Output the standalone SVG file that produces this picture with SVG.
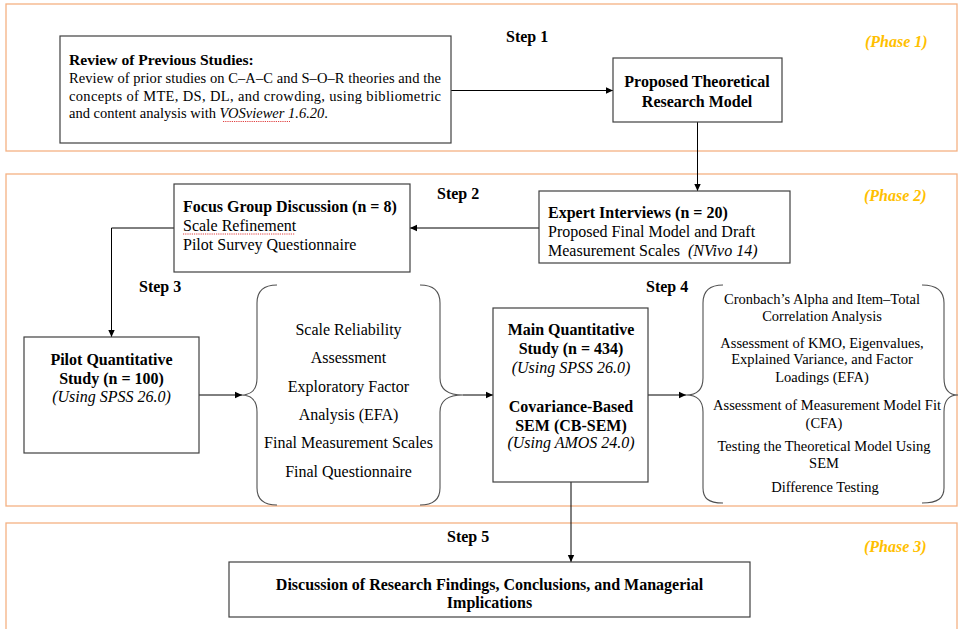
<svg xmlns="http://www.w3.org/2000/svg" width="960" height="629" viewBox="0 0 960 629">
  <defs>
    <marker id="arrow" markerWidth="8" markerHeight="8" refX="7" refY="4" orient="auto" markerUnits="userSpaceOnUse">
      <path d="M0,0.8 L7,4 L0,7.2 Z" fill="#000"/>
    </marker>
    <style>
      .phase { fill: none; stroke: #F4B183; stroke-width: 1.3; }
      .box { fill: #fff; stroke: #404040; stroke-width: 1.2; }
      .brace { fill: none; stroke: #505050; stroke-width: 1.1; }
      .conn { fill: none; stroke: #000; stroke-width: 1; }
      text { font-family: "Liberation Serif", "Times New Roman", serif; fill: #000; }
      .step { font-size: 16px; font-weight: bold; }
      .plabel { font-size: 16px; font-weight: bold; font-style: italic; fill: #FFC000; }
      .b16 { font-size: 16px; font-weight: bold; }
      .r16 { font-size: 16px; }
      .r14 { font-size: 14.5px; }
      .r145 { font-size: 14.5px; }
      .it { font-style: italic; }
      .mid { text-anchor: middle; }
      .spell { fill: none; stroke: #E04040; stroke-width: 1; stroke-dasharray: 1.2 1; }
    </style>
  </defs>

  <!-- phase frames -->
  <g id="phases">
    <rect class="phase" x="6" y="4" width="951" height="147"/>
    <rect class="phase" x="6" y="174" width="951" height="332"/>
    <rect class="phase" x="6" y="523" width="951" height="112"/>
  </g>

  <!-- step and phase labels -->
  <g id="labels">
    <text class="step" x="506" y="42">Step 1</text>
    <text class="step" x="437" y="199">Step 2</text>
    <text class="step" x="139" y="292">Step 3</text>
    <text class="step" x="646" y="292">Step 4</text>
    <text class="step" x="447" y="542">Step 5</text>
    <text class="plabel" x="865" y="47">(Phase 1)</text>
    <text class="plabel" x="864" y="201">(Phase 2)</text>
    <text class="plabel" x="864" y="552">(Phase 3)</text>
  </g>

  <!-- connectors -->
  <g id="connectors">
    <path class="conn" d="M451,90.5 H613" marker-end="url(#arrow)"/>
    <path class="conn" d="M697.5,122 V191" marker-end="url(#arrow)"/>
    <path class="conn" d="M539,228 H410" marker-end="url(#arrow)"/>
    <path class="conn" d="M174,228 H111.5 V337" marker-end="url(#arrow)"/>
    <path class="conn" d="M199,395 H242" marker-end="url(#arrow)"/>
    <path class="conn" d="M463,395 H493" marker-end="url(#arrow)"/>
    <path class="conn" d="M648,395 H686" marker-end="url(#arrow)"/>
    <path class="conn" d="M571,482 V562" marker-end="url(#arrow)"/>
  </g>

  <!-- Step 1 -->
  <g id="review">
    <rect class="box" x="60" y="36" width="391" height="107"/>
    <text style="font-size:15.6px;font-weight:bold" x="69" y="65">Review of Previous Studies:</text>
    <text class="r14" x="69" y="83" textLength="372" lengthAdjust="spacing">Review of prior studies on C–A–C and S–O–R theories and the</text>
    <text class="r14" x="69" y="100.5" textLength="372" lengthAdjust="spacing">concepts of MTE, DS, DL, and crowding, using bibliometric</text>
    <text class="r14" x="69" y="118">and content analysis with <tspan class="it">VOSviewer 1.6.20</tspan>.</text>
    <path class="spell" d="M223,121.5 H290"/>
  </g>

  <g id="model">
    <rect class="box" x="613" y="58" width="169" height="64"/>
    <text class="b16 mid" x="697" y="87">Proposed Theoretical</text>
    <text class="b16 mid" x="697" y="106.5">Research Model</text>
  </g>

  <!-- Step 2 -->
  <g id="expert">
    <rect class="box" x="539" y="191" width="251" height="72"/>
    <text class="b16" x="548" y="218">Expert Interviews (n = 20)</text>
    <text class="r16" x="548" y="237">Proposed Final Model and Draft</text>
    <text class="r16" x="548" y="255.5">Measurement Scales<tspan class="it" x="688">(NVivo 14)</tspan></text>
  </g>

  <g id="focus">
    <rect class="box" x="174" y="184" width="236" height="88"/>
    <text class="b16" x="183" y="212">Focus Group Discussion (n = 8)</text>
    <text class="r16" x="183" y="231">Scale Refinement</text>
    <path class="spell" d="M183,234 H295"/>
    <text class="r16" x="183" y="249.5">Pilot Survey Questionnaire</text>
  </g>

  <!-- Step 3 -->
  <g id="pilot">
    <rect class="box" x="24" y="337" width="175" height="116"/>
    <text class="b16 mid" x="111.5" y="365">Pilot Quantitative</text>
    <text class="b16 mid" x="111.5" y="383.5">Study (n = 100)</text>
    <text class="r16 it mid" x="111.5" y="402">(Using SPSS 26.0)</text>
  </g>

  <g id="pilot-analysis">
    <path class="brace" d="M277,285 C262,285 257,292 257,303 V378 C257,388 253,395 241,395 C253,395 257,402 257,412 V488 C257,498 262,505 277,505"/>
    <path class="brace" d="M420,285 C435,285 440,292 440,303 V378 C440,388 446,395 463,395 C446,395 440,402 440,412 V488 C440,498 435,505 420,505"/>
    <text class="r16 mid" x="348.5" y="335">Scale Reliability</text>
    <text class="r16 mid" x="348.5" y="363.3">Assessment</text>
    <text class="r16 mid" x="348.5" y="391.7">Exploratory Factor</text>
    <text class="r16 mid" x="348.5" y="420">Analysis (EFA)</text>
    <text class="r16 mid" x="348.5" y="448.3">Final Measurement Scales</text>
    <text class="r16 mid" x="348.5" y="476.7">Final Questionnaire</text>
  </g>

  <!-- Step 4 -->
  <g id="main">
    <rect class="box" x="493" y="308" width="155" height="174"/>
    <text class="b16 mid" x="571" y="335">Main Quantitative</text>
    <text class="b16 mid" x="571" y="354">Study (n = 434)</text>
    <text class="r16 it mid" x="571" y="372.7">(Using SPSS 26.0)</text>
    <text class="b16 mid" x="571" y="411.7">Covariance-Based</text>
    <text class="b16 mid" x="571" y="430.7">SEM (CB-SEM)</text>
    <text class="r16 it mid" x="571" y="448.3">(Using AMOS 24.0)</text>
  </g>

  <g id="main-analysis">
    <path class="brace" d="M723,285 C708,285 703,292 703,303 V378 C703,388 698,395 686,395 C698,395 703,402 703,412 V488 C703,498 708,503 723,503"/>
    <path class="brace" d="M922,285 C938,285 944,292 944,303 V378 C944,388 948,395 958,395 C948,395 944,402 944,412 V488 C944,498 938,503 922,503"/>
    <text class="r145 mid" x="822" y="304">Cronbach’s Alpha and Item–Total</text>
    <text class="r145 mid" x="822" y="321">Correlation Analysis</text>
    <text class="r145 mid" x="822" y="347.7">Assessment of KMO, Eigenvalues,</text>
    <text class="r145 mid" x="822" y="364">Explained Variance, and Factor</text>
    <text class="r145 mid" x="822" y="381.7">Loadings (EFA)</text>
    <text class="r145 mid" x="827" y="410">Assessment of Measurement Model Fit</text>
    <text class="r145 mid" x="824" y="427.7">(CFA)</text>
    <text class="r145 mid" x="824" y="451">Testing the Theoretical Model Using</text>
    <text class="r145 mid" x="824" y="468.3">SEM</text>
    <text class="r145 mid" x="825" y="492.3">Difference Testing</text>
  </g>

  <!-- Step 5 -->
  <g id="discussion">
    <rect class="box" x="229" y="562" width="521" height="55"/>
    <text class="b16 mid" x="489.5" y="590">Discussion of Research Findings, Conclusions, and Managerial</text>
    <text class="b16 mid" x="489.5" y="608">Implications</text>
  </g>
</svg>
